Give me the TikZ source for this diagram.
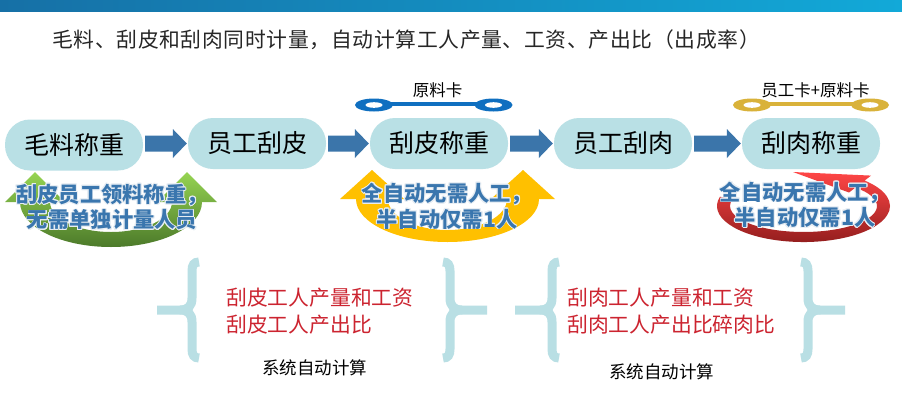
\documentclass[tikz,border=0pt]{standalone}
\usepackage{fontspec}
\setmainfont{Noto Sans CJK SC}
\usepackage[copies]{contour}
\contourlength{0.8pt}
\usetikzlibrary{calc}
\definecolor{pillc}{HTML}{B9E0E5}
\definecolor{arrowc}{HTML}{3B75AA}
\definecolor{bluetext}{HTML}{3A76AE}
\definecolor{bracec}{HTML}{B9DFE4}
\definecolor{redtext}{HTML}{CC2430}
\definecolor{cardblue}{HTML}{0F6FC0}
\definecolor{cardgold}{HTML}{D9B23A}
\definecolor{yel}{HTML}{FFC000}
\definecolor{greenA}{HTML}{96D452}
\definecolor{greenB}{HTML}{4C7A2A}
\definecolor{redA}{HTML}{FF4646}
\definecolor{redB}{HTML}{8F1C1C}
\definecolor{bannerL}{HTML}{1670A6}
\definecolor{bannerR}{HTML}{12A9D8}
\definecolor{titlec}{HTML}{262626}
\definecolor{halo}{HTML}{E8EEF4}
\tikzset{
  pill/.style={rectangle, rounded corners=25pt, minimum width=138pt, minimum height=51pt,
    fill=pillc, inner sep=0pt, font=\fontsize{25}{28}\selectfont, text=black},
  lbl/.style={align=center, inner sep=0pt, font=\bfseries\fontsize{21.3}{25.5}\selectfont, text=bluetext},
  calc/.style={align=left, inner sep=0pt, anchor=west, font=\fontsize{20.8}{27}\selectfont, text=redtext},
  sys/.style={inner sep=0pt, font=\fontsize{17.5}{20}\selectfont, text=black},
  cardtxt/.style={inner sep=0pt, font=\fontsize{16.5}{19}\selectfont, text=black},
  bracestyle/.style={draw=bracec, line width=9pt, line cap=butt}
}
\newcommand\myarrow[2]{%
  \fill[arrowc] let \p1=(#1.east), \p2=(#2.west) in
   (\x1+2pt,\y2+8pt) -- (\x2-15pt,\y2+8pt) -- (\x2-15pt,\y2+14.5pt) -- (\x2-1pt,\y2)
   -- (\x2-15pt,\y2-14.5pt) -- (\x2-15pt,\y2-8pt) -- (\x1+2pt,\y2-8pt) -- cycle;}
\newcommand\mybraceL[2]{%
  \draw[bracestyle] (#1+7,262) .. controls (#1+2,262) and (#1,265) .. (#1,271) -- (#1,298)
     .. controls (#1,306) and (#1-4,310) .. (#1-12,310) -- (#2,310);
  \draw[bracestyle] (#1+7,358) .. controls (#1+2,358) and (#1,355) .. (#1,349) -- (#1,322)
     .. controls (#1,314) and (#1-4,310) .. (#1-12,310);}
\newcommand\mybraceR[2]{%
  \draw[bracestyle] (#1-7,262) .. controls (#1-2,262) and (#1,265) .. (#1,271) -- (#1,298)
     .. controls (#1,306) and (#1+4,310) .. (#1+12,310) -- (#2,310);
  \draw[bracestyle] (#1-7,358) .. controls (#1-2,358) and (#1,355) .. (#1,349) -- (#1,322)
     .. controls (#1,314) and (#1+4,310) .. (#1+12,310);}
\newcommand\mycard[4]{% left x, right x, y, colour
  \draw[#4, line width=4pt] (#1,#3-1.5) -- (#2,#3-1.5);
  \fill[#4] (#1,#3) ellipse [x radius=19pt, y radius=6.5pt];
  \fill[white] (#1,#3) ellipse [x radius=8.5pt, y radius=2.8pt];
  \fill[#4] (#2,#3) ellipse [x radius=19pt, y radius=6.5pt];
  \fill[white] (#2,#3) ellipse [x radius=8.5pt, y radius=2.8pt];}
\begin{document}
\begin{tikzpicture}[x=1pt,y=-1pt]
\useasboundingbox (0,0) rectangle (902,410);
\fill[white] (0,0) rectangle (902,410);
% banner
\shade[left color=bannerL, right color=bannerR] (0,0) rectangle (902,11);
% title
\node[anchor=west, inner sep=0pt, font=\fontsize{20.8}{24}\selectfont\addfontfeature{LetterSpace=3.2}, text=titlec] (title) at (52,40)
  {毛料、刮皮和刮肉同时计量，自动计算工人产量、工资、产出比（出成率）};
% green curved arrow
\shade[top color=greenA, bottom color=greenB]
  (20,202) arc[start angle=180, end angle=360, x radius=91pt, y radius=45pt]
  -- (217,202) -- (187,172) -- (157,202) -- (172,202)
  arc[start angle=0, end angle=-180, x radius=61pt, y radius=30pt]
  -- (65,202) -- (35,172) -- (5,202) -- cycle;
% yellow curved arrow
\fill[yel]
  (356,199) arc[start angle=180, end angle=360, x radius=91.5pt, y radius=43pt]
  -- (555,199) -- (523,170) -- (491,199) -- (507,199)
  arc[start angle=0, end angle=-180, x radius=59.5pt, y radius=31pt]
  -- (404,199) -- (372,170) -- (340,199) -- cycle;
% red circular arrow
\shade[top color=redA, bottom color=redB]
  (719.95,196.7) arc[start angle=165, end angle=405, x radius=86.5pt, y radius=36pt]
  -- (871,175.6) -- (793,172) -- (849,192.5) -- (855.47,187.6)
  arc[start angle=45, end angle=-195, x radius=73.5pt, y radius=26pt] -- cycle;
% cards
\mycard{374}{493.5}{105}{cardblue}
\mycard{752}{870}{105}{cardgold}
\node[cardtxt] (card1) at (437.5,90) {原料卡};
\node[cardtxt] (card2) at (815.5,90) {员工卡+原料卡};
% pills
\node[pill] (p1) at (74,145) {毛料称重};
\node[pill] (p2) at (257,143.5) {员工刮皮};
\node[pill] (p3) at (439,143.5) {刮皮称重};
\node[pill] (p4) at (623,143.5) {员工刮肉};
\node[pill] (p5) at (811,143.5) {刮肉称重};
\myarrow{p1}{p2}
\myarrow{p2}{p3}
\myarrow{p3}{p4}
\myarrow{p4}{p5}
% labels over curved arrows
\node[lbl] (l1) at (112,207.5) {\contour{halo}{刮皮员工领料称重，}\\\contour{halo}{无需单独计量人员}};
\node[lbl] (l2) at (447,206.5) {\contour{halo}{全自动无需人工，}\\\contour{halo}{半自动仅需1人}};
\node[lbl] (l3) at (805,205) {\contour{halo}{全自动无需人工，}\\\contour{halo}{半自动仅需1人}};
% braces
\mybraceL{192}{157}
\mybraceR{450}{487}
\mybraceL{552}{515}
\mybraceR{808}{845}
% calc texts
\node[calc] (c1) at (226,311.5) {刮皮工人产量和工资\\刮皮工人产出比};
\node[calc] (c2) at (567,311.5) {刮肉工人产量和工资\\刮肉工人产出比碎肉比};
\node[sys] (s1) at (314.5,368) {系统自动计算};
\node[sys] (s2) at (661.5,372) {系统自动计算};
\end{tikzpicture}
\end{document}
